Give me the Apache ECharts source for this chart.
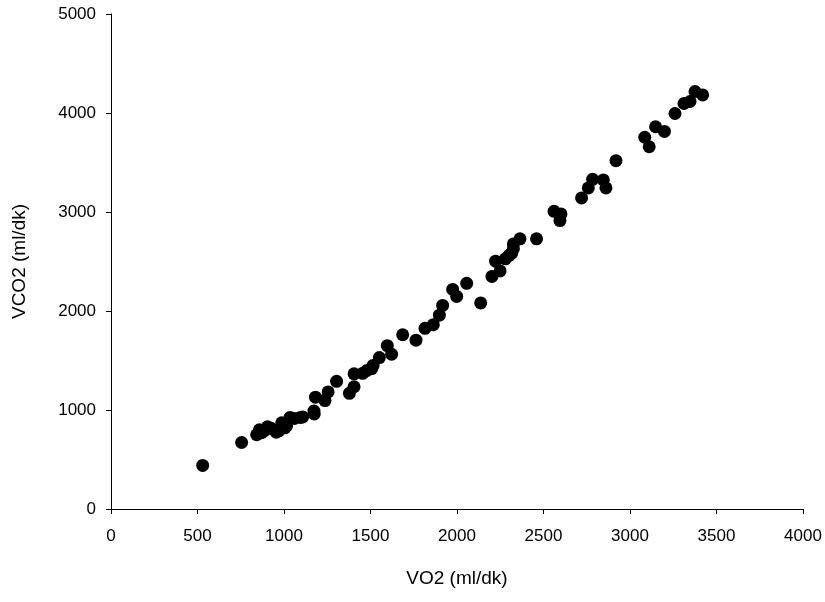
<!DOCTYPE html>
<html>
<head>
<meta charset="utf-8">
<script src="https://cdn.jsdelivr.net/npm/echarts@6/dist/echarts.min.js"></script>
<style>html,body{margin:0;padding:0;background:#fff;}#c{width:825px;height:602px;}</style>
</head>
<body>
<div id="c"></div>
<script>
var vo2 = [530,755,842,858,870,885,905,925,955,970,987,1005,1015,1035,1060,1095,1108,1173,1175,1182,1237,1255,1304,1378,1405,1405,1455,1480,1507,1515,1551,1597,1622,1686,1763,1815,1863,1898,1917,1975,1998,2056,2137,2202,2223,2249,2280,2300,2316,2326,2326,2364,2460,2561,2595,2601,2720,2759,2784,2846,2861,2919,3085,3111,3148,3199,3260,3312,3347,3376,3420];
var vco2 = [440,672,750,800,770,790,830,815,775,790,870,820,840,925,915,925,930,990,960,1130,1095,1183,1290,1168,1235,1365,1370,1400,1418,1450,1530,1650,1563,1760,1705,1825,1862,1958,2056,2218,2147,2280,2082,2349,2503,2405,2527,2560,2584,2630,2678,2729,2729,3007,2913,2981,3142,3243,3330,3324,3243,3518,3755,3659,3861,3814,3995,4096,4116,4217,4183];
var xLabel = 'VO2 (ml/dk)';
var yLabel = 'VCO2 (ml/dk)';

var pts = vo2.map(function(v, i){ return [v, vco2[i]]; });
var chart = echarts.init(document.getElementById('c'));
var font = 'Liberation Sans, Arial, sans-serif';
var plain = function(v){ return String(v); };
chart.setOption({
  animation: false,
  backgroundColor: '#fff',
  grid: {left: 111, right: 22, top: 14, bottom: 93, containLabel: false},
  xAxis: {
    type: 'value', min: 0, max: 4000, interval: 500,
    name: xLabel, nameLocation: 'middle', nameGap: 60,
    nameTextStyle: {color: '#000', fontSize: 19, fontFamily: font},
    axisLine: {show: true, onZero: false, lineStyle: {color: '#000', width: 1}},
    axisTick: {show: true, inside: false, length: 5, lineStyle: {color: '#000'}},
    axisLabel: {color: '#000', fontSize: 17, fontFamily: font, margin: 19, formatter: plain},
    splitLine: {show: false}
  },
  yAxis: {
    type: 'value', min: 0, max: 5000, interval: 1000,
    name: yLabel, nameLocation: 'middle', nameGap: 82,
    nameTextStyle: {color: '#000', fontSize: 19, fontFamily: font},
    axisLine: {show: true, onZero: false, lineStyle: {color: '#000', width: 1}},
    axisTick: {show: true, inside: false, length: 5, lineStyle: {color: '#000'}},
    axisLabel: {color: '#000', fontSize: 17, fontFamily: font, margin: 15, formatter: plain},
    splitLine: {show: false}
  },
  series: [{
    type: 'scatter',
    data: pts,
    symbol: 'circle',
    symbolSize: 13,
    itemStyle: {color: '#000', opacity: 1}
  }]
});
</script>
</body>
</html>
